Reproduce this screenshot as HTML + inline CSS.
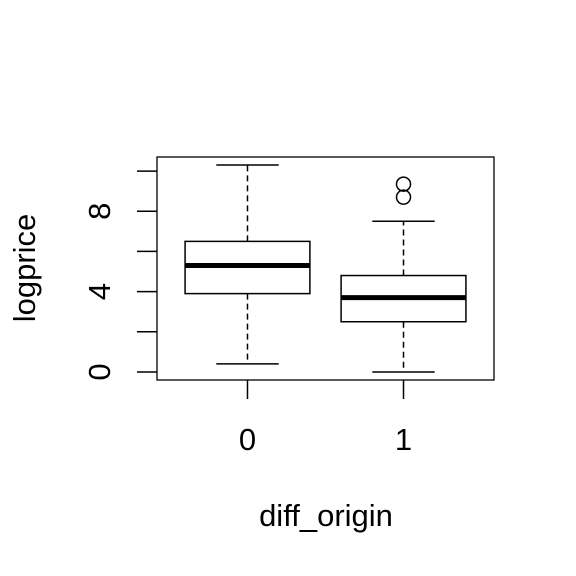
<!DOCTYPE html>
<html><head><meta charset="utf-8"><style>body{margin:0;background:#fff}svg{display:block}text{font-family:"Liberation Sans",Arial,sans-serif;fill:#000}</style></head>
<body>
<svg id="chart" width="576" height="576" viewBox="0 0 576 576" xmlns="http://www.w3.org/2000/svg">
<rect x="157" y="157" width="337" height="223" fill="none" stroke="#000" stroke-width="1.3"/>
<text x="326" y="526" font-size="31" text-anchor="middle">diff_origin</text>
<text transform="translate(35,268) rotate(-90)" font-size="31" text-anchor="middle">logprice</text>
</svg>
<script>
const categories = ["0", "1"];
const q1 = [3.9, 2.5];
const medians = [5.3, 3.7];
const q3 = [6.5, 4.8];
const whiskerLow = [0.4, 0.0];
const whiskerHigh = [10.3, 7.5];
const outliers = [[], [9.35, 8.7]];
const yTicks = [0, 2, 4, 6, 8, 10];
const yTickLabels = ["0", "", "4", "", "8", ""];

const svg = document.getElementById('chart');
const NS = 'http://www.w3.org/2000/svg';
const X0 = 157, X1 = 494, Y0 = 380, Y1 = 157;
const xmin = 0.42, xmax = 2.58, ymin = -0.4, ymax = 10.7;
const xs = v => X0 + (v - xmin) / (xmax - xmin) * (X1 - X0);
const ys = v => Y0 - (v - ymin) / (ymax - ymin) * (Y0 - Y1);
function mk(tag, attrs) { const e = document.createElementNS(NS, tag); for (const k in attrs) e.setAttribute(k, attrs[k]); svg.appendChild(e); return e; }

yTicks.forEach((t, i) => {
  const tk = mk('line', {x1: 137, x2: 157, y1: ys(t), y2: ys(t), stroke: '#000', 'stroke-width': 1.5});
  
  
  if (yTickLabels[i]) {
    const tx = mk('text', {transform: `translate(110,${ys(t)}) rotate(-90)`, 'font-size': 31, 'text-anchor': 'middle'});
    tx.textContent = yTickLabels[i];
    
    
  }
});
categories.forEach((c, i) => {
  const cx = xs(i + 1);
  const tk = mk('line', {x1: cx, x2: cx, y1: 380, y2: 399, stroke: '#000', 'stroke-width': 1.5});
  
  
  const tx = mk('text', {x: cx, y: 450, 'font-size': 31, 'text-anchor': 'middle'});
  tx.textContent = c;
  
  
  const hw = 0.4 * (X1 - X0) / (xmax - xmin), cw = hw / 2;
  const w1 = mk('line', {x1: cx, x2: cx, y1: ys(q3[i]), y2: ys(whiskerHigh[i]), stroke: '#000', 'stroke-width': 1.5, 'stroke-dasharray': '6,4'});
  
  
  const w2 = mk('line', {x1: cx, x2: cx, y1: ys(q1[i]), y2: ys(whiskerLow[i]), stroke: '#000', 'stroke-width': 1.5, 'stroke-dasharray': '6,4'});
  
  
  const c1 = mk('line', {x1: cx - cw, x2: cx + cw, y1: ys(whiskerHigh[i]), y2: ys(whiskerHigh[i]), stroke: '#000', 'stroke-width': 1.5});
  
  
  const c2 = mk('line', {x1: cx - cw, x2: cx + cw, y1: ys(whiskerLow[i]), y2: ys(whiskerLow[i]), stroke: '#000', 'stroke-width': 1.5});
  
  
  const b = mk('rect', {x: cx - hw, y: ys(q3[i]), width: 2 * hw, height: ys(q1[i]) - ys(q3[i]), fill: '#fff', stroke: '#000', 'stroke-width': 1.5});
  
  
  const m = mk('line', {x1: cx - hw, x2: cx + hw, y1: ys(medians[i]), y2: ys(medians[i]), stroke: '#000', 'stroke-width': 5});
  
  
  outliers[i].forEach(v => {
    const o = mk('circle', {cx: cx, cy: ys(v), r: 7, fill: 'none', stroke: '#000', 'stroke-width': 1.5});
    
    
  });
});
</script>
</body></html>
